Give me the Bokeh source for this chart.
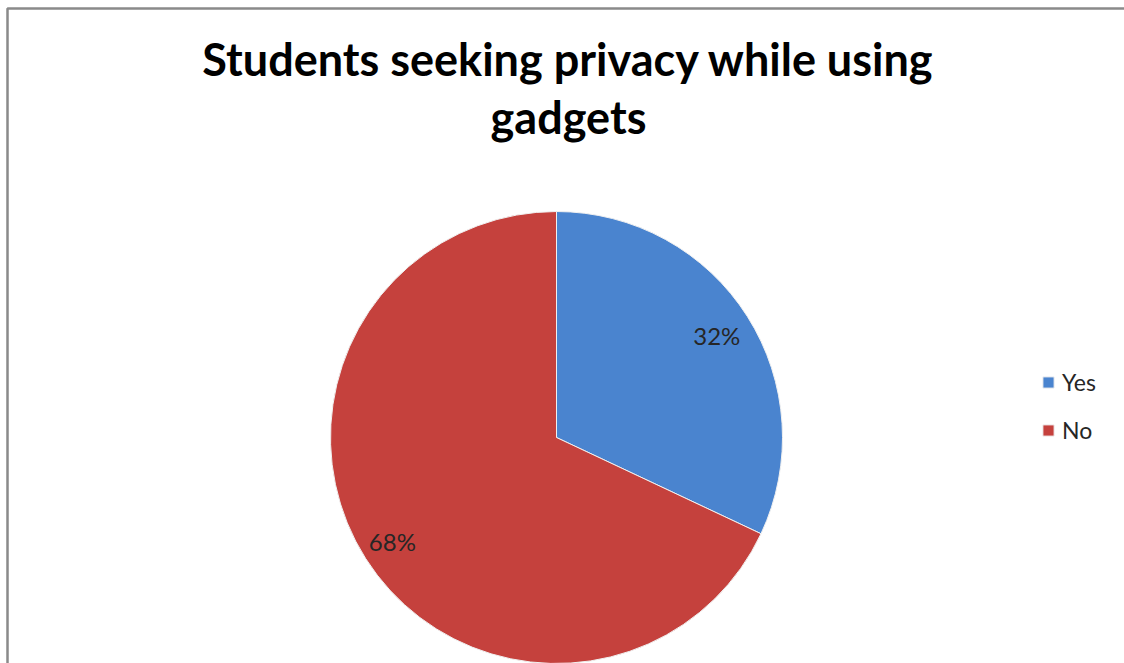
import numpy as np
from bokeh.plotting import figure
from bokeh.models import Range1d, Legend, LegendItem, ColumnDataSource
from bokeh.core.properties import value
from bokeh.embed import file_html
from bokeh.resources import INLINE

categories = ["Yes", "No"]
shares = [32, 68]
pct_labels = ["32%", "68%"]
colors = ["#4a84cf", "#c5413d"]
title_lines = ["Students seeking privacy while using", "gadgets"]

W, H = 1124, 663
p = figure(width=W, height=H, output_backend="svg", toolbar_location=None,
           x_range=Range1d(0, W), y_range=Range1d(H, 0), min_border=0)
p.axis.visible = False
p.grid.visible = False
p.outline_line_color = None
p.background_fill_color = "white"

# chart frame
p.line(x=[7, 7, W + 5], y=[H + 5, 8, 8], line_color="#8a8a8a", line_width=2.5)

cx, cy, r = 556, 437, 226
vals = np.array(shares, dtype=float)
frac = vals / vals.sum()
cum = np.concatenate([[0], np.cumsum(frac)])
# screen angles (counter-clockwise positive), slices run clockwise from 12 o'clock
start = np.pi / 2 - 2 * np.pi * cum[:-1]
end = np.pi / 2 - 2 * np.pi * cum[1:]
src = ColumnDataSource(dict(cat=categories, start=start, end=end, color=colors,
                            x=[cx] * 2, y=[cy] * 2))
wr = p.wedge(x="x", y="y", radius=r, start_angle="start", end_angle="end",
             direction="clock", fill_color="color", line_color="#f0f0f0",
             line_width=1, source=src)

mid = (start + end) / 2
lr = [0.84 * r, 0.86 * r]
lx = [cx + lr[i] * np.cos(mid[i]) for i in range(2)]
ly = [cy - lr[i] * np.sin(mid[i]) for i in range(2)]
p.text(x=lx, y=ly, text=pct_labels, text_font=value("Lato"), text_font_size="24px",
       text_color="#262626", text_align="center", text_baseline="middle")

p.text(x=[568, 568], y=[58, 116], text=title_lines, text_font=value("Lato"),
       text_font_size="45px", text_font_style="bold", text_color="black",
       text_align="center", text_baseline="alphabetic")

legend = Legend(items=[LegendItem(label=categories[i], renderers=[wr], index=i) for i in range(2)],
                location=(1041, 219), label_text_font="Lato",
                label_text_font_size="23px", label_text_color="#262626",
                glyph_width=14, glyph_height=14, label_height=22, spacing=20,
                padding=0, margin=0, border_line_color=None,
                background_fill_alpha=0, label_standoff=7)
p.add_layout(legend, "center")

open("out.html", "w").write(file_html(p, INLINE))
